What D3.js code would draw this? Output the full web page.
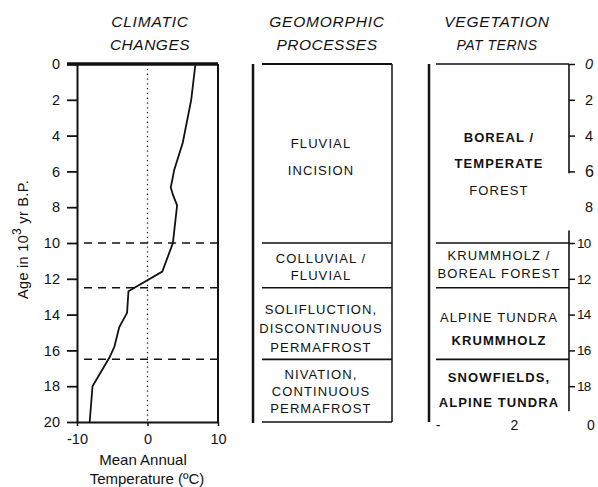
<!DOCTYPE html>
<html><head><meta charset="utf-8">
<script src="https://cdn.jsdelivr.net/npm/d3@7"></script>
<style>body{margin:0;background:#fff}svg{display:block}text{font-family:"Liberation Sans",Arial,sans-serif;fill:#111}</style>
</head><body>
<svg id="c" width="598" height="487"></svg>
<script>
// ---- Data
const ageTicks = [0,2,4,6,8,10,12,14,16,18,20];
const tempTicks = [-10,0,10];
const tempAge = [0,2,4.4,5.9,6.9,7.3,7.9,10,11.6,12.7,13.9,14.7,15.8,16.4,18,20];
const tempVal = [6.8,6.2,5.0,3.8,3.3,3.6,4.2,3.6,2.1,-2.7,-2.9,-4.0,-4.7,-5.4,-7.8,-8.2];
const boundaries = [10,12.5,16.5];
const geoZones = [
  {from:0,to:10,lines:["FLUVIAL","INCISION"]},
  {from:10,to:12.5,lines:["COLLUVIAL /","FLUVIAL"]},
  {from:12.5,to:16.5,lines:["SOLIFLUCTION,","DISCONTINUOUS","PERMAFROST"]},
  {from:16.5,to:20,lines:["NIVATION,","CONTINUOUS","PERMAFROST"]}
];
const vegZones = [
  {from:0,to:10,lines:["BOREAL /","TEMPERATE","FOREST"],bold:[true,true,false]},
  {from:10,to:12.5,lines:["KRUMMHOLZ /","BOREAL FOREST"],bold:[false,false]},
  {from:12.5,to:16.5,lines:["ALPINE TUNDRA","KRUMMHOLZ"],bold:[false,true]},
  {from:16.5,to:19.4,lines:["SNOWFIELDS,","ALPINE TUNDRA"],bold:[true,true]}
];
const vegTicks = [0,2,4,6,8,10,12,14,16,18];
const vegBottomLabels = ["-","2","0"];

// ---- Layout (styling only)
const geoLayout = [{dy:3,lh:27},{dy:1,lh:17},{dy:4.5,lh:19},{dy:0.5,lh:17}];
const vegLayout = [{dy:10,lh:26.5},{dy:-1.5,lh:18},{dy:5,lh:23},{dy:4,lh:25}];

const svg = d3.select("#c");
const y = d3.scaleLinear().domain([0,20]).range([64,422]);
const x = d3.scaleLinear().domain([-10,10]).range([77,218]);
const FONT = "Liberation Sans, Arial, sans-serif";

// ---- Titles
function title(cx, l1, l2, fs2){
  svg.append("text").attr("x",cx).attr("y",27).attr("text-anchor","middle")
    .attr("font-style","italic").attr("font-size",15.5).attr("letter-spacing",0.8).text(l1);
  svg.append("text").attr("x",cx).attr("y",50).attr("text-anchor","middle")
    .attr("font-style","italic").attr("font-size",fs2).attr("letter-spacing",0.5).text(l2);
}
title(150,"CLIMATIC","CHANGES",15.5);
title(327,"GEOMORPHIC","PROCESSES",15.5);
title(497,"VEGETATION","PAT TERNS",14);

// ---- Left panel
const gL = svg.append("g");
gL.append("line").attr("x1",x(0)).attr("x2",x(0)).attr("y1",y(0)).attr("y2",y(20))
  .attr("stroke","#222").attr("stroke-width",1.3).attr("stroke-dasharray","1.3,3.5");
gL.selectAll(".dash").data(boundaries).join("line")
  .attr("x1",x(-9)).attr("x2",x(10)).attr("y1",d=>y(d)).attr("y2",d=>y(d))
  .attr("stroke","#111").attr("stroke-width",1.5).attr("stroke-dasharray","8,6");
const line = d3.line().x((d,i)=>x(tempVal[i])).y(d=>y(d));
gL.append("path").datum(tempAge).attr("d",line).attr("fill","none")
  .attr("stroke","#111").attr("stroke-width",1.8);
const ax = gL.append("g").attr("transform",`translate(${x(-10)},0)`)
  .call(d3.axisLeft(y).tickValues(ageTicks).tickSize(10).tickSizeOuter(0).tickPadding(7).tickFormat(d=>String(d)));
ax.select(".domain").attr("stroke","#111").attr("stroke-width",2);
ax.selectAll(".tick line").attr("stroke","#111").attr("stroke-width",1.8);
ax.selectAll(".tick text").attr("font-size",14.5).attr("fill","#111").attr("font-family",FONT);
const bx = gL.append("g").attr("transform",`translate(0,${y(20)})`)
  .call(d3.axisBottom(x).tickValues(tempTicks).tickSize(4).tickSizeOuter(0).tickPadding(8).tickFormat(d=>String(d)));
bx.select(".domain").attr("stroke","#111").attr("stroke-width",2);
bx.selectAll(".tick line").attr("stroke","#111").attr("stroke-width",1.5);
bx.selectAll(".tick text").attr("font-size",14.5).attr("fill","#111").attr("font-family",FONT);
gL.append("line").attr("x1",x(-10)-10).attr("x2",x(10)).attr("y1",y(0)).attr("y2",y(0))
  .attr("stroke","#111").attr("stroke-width",3.5);
gL.append("line").attr("x1",x(10)).attr("x2",x(10)).attr("y1",y(0)).attr("y2",y(20))
  .attr("stroke","#111").attr("stroke-width",2);
svg.append("text").attr("transform",`translate(28,${y(9.8)}) rotate(-90)`).attr("text-anchor","middle")
  .attr("font-size",14.5).attr("letter-spacing",0.3)
  .html('Age in 10<tspan dy="-7" font-size="12">3</tspan><tspan dy="7"> yr B.P.</tspan>');
svg.append("text").attr("x",143).attr("y",465).attr("text-anchor","middle").attr("font-size",15).text("Mean  Annual");
svg.append("text").attr("x",147).attr("y",484).attr("text-anchor","middle").attr("font-size",15).text("Temperature  (ºC)");

// ---- Zone text helper
function zoneText(g, zones, layout, cx){
  zones.forEach((z,k)=>{
    const L = layout[k];
    const mid = (y(z.from)+y(z.to))/2 + L.dy;
    const n = z.lines.length;
    z.lines.forEach((t,i)=>{
      g.append("text").attr("x",cx).attr("y",mid+(i-(n-1)/2)*L.lh+4.8)
        .attr("text-anchor","middle").attr("font-size",13)
        .attr("font-weight",z.bold&&z.bold[i]?"bold":"normal")
        .attr("letter-spacing",1.1).text(t);
    });
  });
}

// ---- Middle panel
const mx0 = 262, mx1 = 392;
const gM = svg.append("g");
gM.append("line").attr("x1",253).attr("x2",253).attr("y1",y(0)).attr("y2",y(20)+1).attr("stroke","#111").attr("stroke-width",2.5);
gM.append("line").attr("x1",mx1).attr("x2",mx1).attr("y1",y(0)).attr("y2",y(20)).attr("stroke","#111").attr("stroke-width",1.5);
gM.selectAll(".hl").data([0].concat(boundaries,[20])).join("line")
  .attr("x1",mx0).attr("x2",mx1).attr("y1",d=>y(d)).attr("y2",d=>y(d))
  .attr("stroke","#111").attr("stroke-width",d=>d===0?2:1.6);
zoneText(gM, geoZones, geoLayout, 321);

// ---- Right panel
const rx0 = 436, rx1 = 569;
const gR = svg.append("g");
gR.append("line").attr("x1",429).attr("x2",429).attr("y1",y(0)).attr("y2",y(20)).attr("stroke","#111").attr("stroke-width",2.5);
gR.selectAll(".hl").data([0].concat(boundaries)).join("line")
  .attr("x1",rx0).attr("x2",rx1).attr("y1",d=>y(d)).attr("y2",d=>y(d))
  .attr("stroke","#111").attr("stroke-width",1.6);
const rax = gR.append("g").attr("transform",`translate(${rx1},0)`)
  .call(d3.axisRight(y).tickValues(vegTicks).tickSize(6).tickSizeOuter(0).tickPadding(10).tickFormat(d=>String(d)));
rax.select(".domain").remove();
rax.append("line").attr("x1",0).attr("x2",0).attr("y1",y(0)).attr("y2",y(6.1)).attr("stroke","#111").attr("stroke-width",1.6);
rax.append("line").attr("x1",0).attr("x2",0).attr("y1",y(9.3)).attr("y2",y(19.4)).attr("stroke","#111").attr("stroke-width",1.6);
rax.selectAll(".tick line").attr("stroke","#111").attr("stroke-width",1.5).attr("display",d=>d===8?"none":null);
rax.selectAll(".tick text").attr("font-size",d=>d===6?16:(d>=10?13.5:14.5)).attr("fill","#111").attr("font-family",FONT)
  .attr("font-style",d=>d===0?"italic":"normal")
  .attr("x",d=>d>=10?8:16).attr("letter-spacing",d=>d>=10?-0.8:0);
zoneText(gR, vegZones, vegLayout, 499);
const bl = d3.scalePoint().domain(vegBottomLabels).range([438,591]);
gR.selectAll(".bl").data(vegBottomLabels).join("text")
  .attr("x",d=>bl(d)).attr("y",430).attr("text-anchor","middle").attr("font-size",14).text(d=>d);
</script>
</body></html>
